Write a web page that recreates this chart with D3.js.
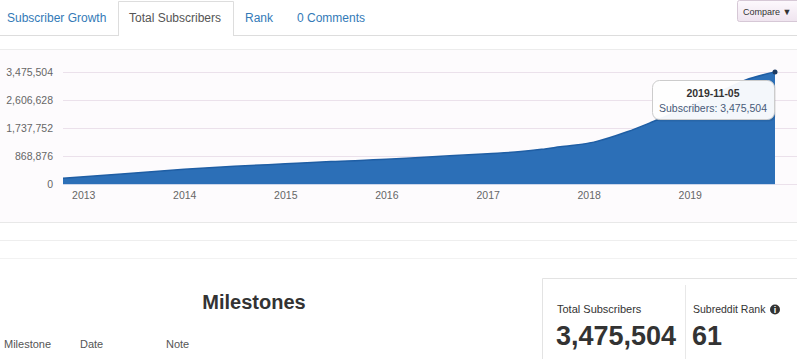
<!DOCTYPE html>
<html lang="en">
<head>
<meta charset="UTF-8">
<title>Total Subscribers</title>
<script src="https://d3js.org/d3.v7.min.js"></script>
<style type="text/css">
  body { margin: 0; background: #fff; }
  svg { display: block; font-family: "Liberation Sans", Arial, sans-serif; }
</style>
</head>
<body>
<script type="text/javascript">

// subscriber history
var dates = ["2012-10-20", "2013-06-01", "2014-01-01", "2014-07-01", "2015-01-01",
             "2015-06-15", "2016-01-01", "2016-05-01", "2017-01-01", "2017-05-01",
             "2017-07-15", "2017-09-20", "2018-01-20", "2018-05-20", "2018-08-20",
             "2019-01-01", "2019-04-15", "2019-07-20", "2019-11-05"];
var subscribers = [177000, 316000, 455000, 550000, 625000,
                   695000, 765000, 825000, 940000, 1005000,
                   1075000, 1155000, 1300000, 1620000, 1930000,
                   2420000, 2840000, 3220000, 3475504];
var yTicks = [0, 868876, 1737752, 2606628, 3475504];
var yearTicks = ["2013", "2014", "2015", "2016", "2017", "2018", "2019"];
var tabs = ["Subscriber Growth", "Total Subscribers", "Rank", "0 Comments"];
var tableHeads = ["Milestone", "Date", "Note"];

var w = 797, h = 359;
var parse = d3.timeParse("%Y-%m-%d");
var fmt = d3.format(",");

var data = dates.map(function(d, i) {
  return { date: parse(d), value: subscribers[i] };
});

var svg = d3.select("body").append("svg")
  .attr("width", w)
  .attr("height", h);

// ---- tabs
svg.append("line")
  .attr("x1", 0).attr("x2", w).attr("y1", 35.5).attr("y2", 35.5)
  .attr("stroke", "#ddd");
svg.append("path")
  .attr("d", "M118.5,36V1.5H233.5V36")
  .attr("fill", "#fff")
  .attr("stroke", "#ddd");
svg.append("rect")
  .attr("x", 119).attr("y", 33).attr("width", 114).attr("height", 4)
  .attr("fill", "#fff");

var tabX = [7, 129, 245, 297];
svg.selectAll("text.tab")
  .data(tabs)
  .enter()
  .append("text")
  .attr("class", "tab")
  .attr("x", function(d, i) { return tabX[i]; })
  .attr("y", 22)
  .attr("font-size", "12px")
  .attr("fill", function(d, i) { return i === 1 ? "#555" : "#337ab7"; })
  .text(function(d) { return d; });

// compare button
var grad = svg.append("defs").append("linearGradient")
  .attr("id", "btn").attr("x1", 0).attr("x2", 0).attr("y1", 0).attr("y2", 1);
grad.append("stop").attr("offset", "0%").attr("stop-color", "#fdf9fd");
grad.append("stop").attr("offset", "100%").attr("stop-color", "#efe4ef");
svg.append("rect")
  .attr("x", 737.5).attr("y", 0.5).attr("width", 62).attr("height", 21).attr("rx", 2)
  .attr("fill", "url(#btn)")
  .attr("stroke", "#d6c8d6");
svg.append("text")
  .attr("x", 743).attr("y", 14.5)
  .attr("font-size", "9px")
  .attr("fill", "#333")
  .text("Compare \u25BC");

// ---- chart panel
svg.append("rect")
  .attr("x", 0).attr("y", 49).attr("width", w).attr("height", 173)
  .attr("fill", "#fdfbfd");
svg.append("line")
  .attr("x1", 0).attr("x2", w).attr("y1", 49.5).attr("y2", 49.5)
  .attr("stroke", "#ececec");

var x = d3.scaleTime()
  .domain(d3.extent(data, function(d) { return d.date; }))
  .range([63, 775]);
var y = d3.scaleLinear()
  .domain([0, d3.max(subscribers)])
  .range([184, 72]);

// grid
var yAxis = d3.axisLeft(y)
  .tickValues(yTicks)
  .tickSize(-(w - 63))
  .tickPadding(10)
  .tickFormat(fmt);
var gy = svg.append("g")
  .attr("transform", "translate(63,0)")
  .call(yAxis);
gy.select(".domain").remove();
gy.selectAll(".tick line").attr("stroke", "#ebe1eb");
gy.selectAll(".tick text")
  .attr("font-size", "10.5px")
  .attr("fill", "#666")
  .attr("font-family", "\"Liberation Sans\", Arial, sans-serif");

var area = d3.area()
  .x(function(d) { return x(d.date); })
  .y0(y(0))
  .y1(function(d) { return y(d.value); })
  .curve(d3.curveMonotoneX);
var line = d3.line()
  .x(function(d) { return x(d.date); })
  .y(function(d) { return y(d.value); })
  .curve(d3.curveMonotoneX);

svg.append("path")
  .datum(data)
  .attr("d", area)
  .attr("fill", "#2c6fb7");
svg.append("path")
  .datum(data)
  .attr("d", line)
  .attr("fill", "none")
  .attr("stroke", "#1f5ea4")
  .attr("stroke-width", 1.5);

// x axis
var xAxis = d3.axisBottom(x)
  .tickValues(yearTicks.map(function(d) { return parse(d + "-01-01"); }))
  .tickSize(0)
  .tickPadding(8)
  .tickFormat(d3.timeFormat("%Y"));
var gx = svg.append("g")
  .attr("transform", "translate(0," + y(0) + ")")
  .call(xAxis);
gx.select(".domain")
  .attr("stroke", "#ccd6eb")
  .attr("d", "M63,0.5H775");
gx.selectAll(".tick text")
  .attr("font-size", "10.5px")
  .attr("fill", "#666")
  .attr("font-family", "\"Liberation Sans\", Arial, sans-serif");

// hovered point + tooltip
var last = data[data.length - 1];
svg.append("circle")
  .attr("cx", x(last.date)).attr("cy", y(last.value)).attr("r", 2.5)
  .attr("fill", "#1d3b63");

var tip = svg.append("g").attr("transform", "translate(652,80)");
tip.append("rect")
  .attr("x", 1).attr("y", 1.5).attr("width", 123).attr("height", 40).attr("rx", 7)
  .attr("fill", "#000").attr("opacity", 0.08);
tip.append("rect")
  .attr("x", 0.5).attr("y", 0.5).attr("width", 122).attr("height", 39).attr("rx", 7)
  .attr("fill", "#fff").attr("fill-opacity", 0.95)
  .attr("stroke", "#ccc");
tip.append("text")
  .attr("x", 61).attr("y", 17)
  .attr("text-anchor", "middle")
  .attr("font-size", "10.5px").attr("font-weight", "bold")
  .attr("fill", "#333")
  .text(d3.timeFormat("%Y-%m-%d")(last.date));
tip.append("text")
  .attr("x", 61).attr("y", 32)
  .attr("text-anchor", "middle")
  .attr("font-size", "10.5px")
  .attr("fill", "#475a78")
  .text("Subscribers: " + fmt(last.value));

// ---- separators under the chart
svg.append("line")
  .attr("x1", 0).attr("x2", w).attr("y1", 222.5).attr("y2", 222.5)
  .attr("stroke", "#e8e8e8");
svg.append("line")
  .attr("x1", 0).attr("x2", w).attr("y1", 240.5).attr("y2", 240.5)
  .attr("stroke", "#eee");
svg.append("line")
  .attr("x1", 0).attr("x2", w).attr("y1", 258.5).attr("y2", 258.5)
  .attr("stroke", "#f2f2f2");

// ---- milestones
svg.append("text")
  .attr("x", 254).attr("y", 309)
  .attr("text-anchor", "middle")
  .attr("font-size", "20px").attr("font-weight", "bold")
  .attr("fill", "#333")
  .text("Milestones");

var headX = [4, 80, 166];
svg.selectAll("text.head")
  .data(tableHeads)
  .enter()
  .append("text")
  .attr("class", "head")
  .attr("x", function(d, i) { return headX[i]; })
  .attr("y", 348)
  .attr("font-size", "11px")
  .attr("fill", "#555")
  .text(function(d) { return d; });

// ---- stats box
svg.append("path")
  .attr("d", "M542.5,359V278.5H797")
  .attr("fill", "none")
  .attr("stroke", "#e3e3e3");
svg.append("line")
  .attr("x1", 685.5).attr("x2", 685.5).attr("y1", 285).attr("y2", 359)
  .attr("stroke", "#e8e8e8");

svg.append("text")
  .attr("x", 557).attr("y", 313)
  .attr("font-size", "11px")
  .attr("fill", "#333")
  .text("Total Subscribers");
svg.append("text")
  .attr("x", 556).attr("y", 345)
  .attr("font-size", "27px").attr("font-weight", "bold")
  .attr("fill", "#333")
  .text(fmt(last.value));

svg.append("text")
  .attr("x", 693).attr("y", 313)
  .attr("font-size", "10.5px")
  .attr("fill", "#333")
  .text("Subreddit Rank");
svg.append("circle")
  .attr("cx", 775).attr("cy", 309.5).attr("r", 5)
  .attr("fill", "#333");
svg.append("text")
  .attr("x", 775).attr("y", 313)
  .attr("text-anchor", "middle")
  .attr("font-size", "9px").attr("font-weight", "bold")
  .attr("fill", "#fff")
  .text("i");
svg.append("text")
  .attr("x", 692).attr("y", 345)
  .attr("font-size", "27px").attr("font-weight", "bold")
  .attr("fill", "#333")
  .text("61");

</script>
</body>
</html>
